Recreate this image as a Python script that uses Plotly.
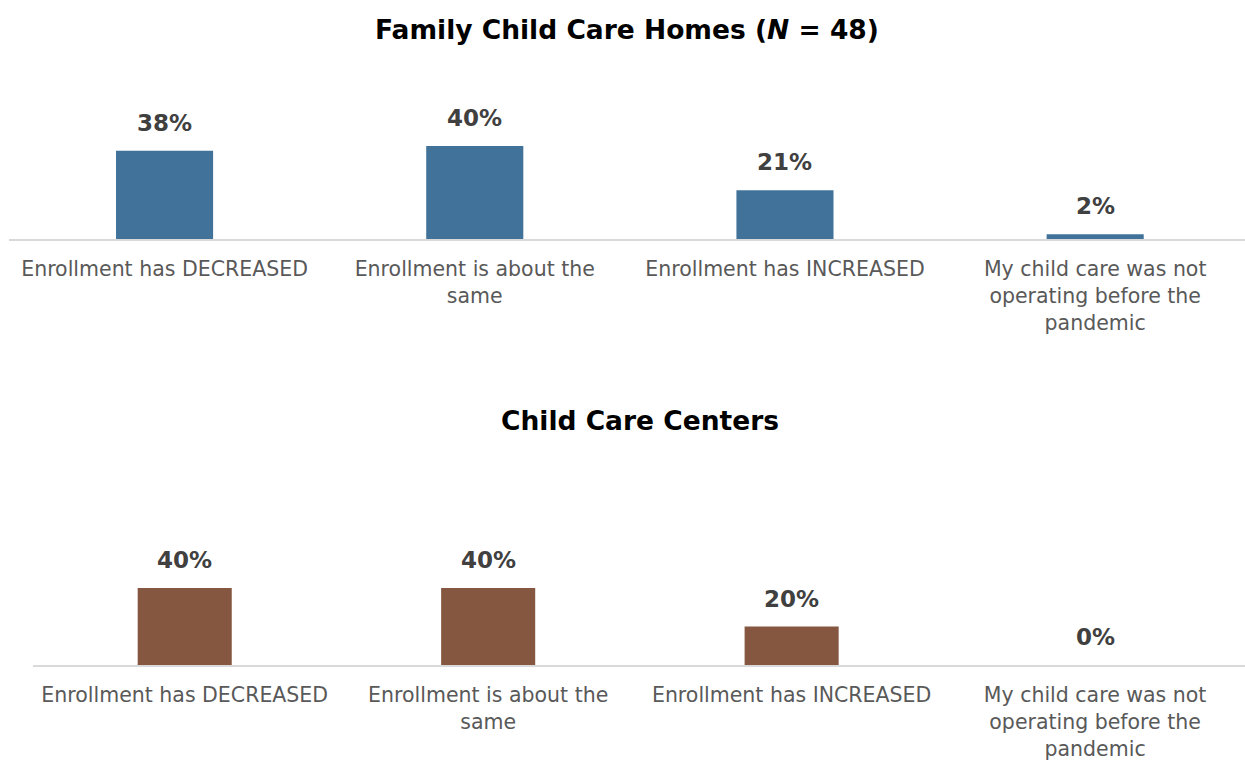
import plotly.graph_objects as go
from plotly.subplots import make_subplots

categories = [
    "Enrollment has DECREASED",
    "Enrollment is about the<br>same",
    "Enrollment has INCREASED",
    "My child care was not<br>operating before the<br>pandemic",
]
homes_pct = [38, 40, 21, 2]
centers_pct = [40, 40, 20, 0]

homes_title = "<b>Family Child Care Homes (<i>N</i> = 48)</b>"
centers_title = "<b>Child Care Centers</b>"

FONT = "DejaVu Sans"
BLUE = "#41739A"
BROWN = "#855640"
LABEL_COLOR = "#404040"

fig = make_subplots(rows=2, cols=1)

fig.add_trace(go.Bar(
    x=categories, y=homes_pct, marker_color=BLUE, width=0.313,
    marker_line_width=0, showlegend=False, hoverinfo="x+y",
), row=1, col=1)

fig.add_trace(go.Bar(
    x=categories, y=centers_pct, marker_color=BROWN, width=0.31,
    marker_line_width=0, showlegend=False, hoverinfo="x+y",
), row=2, col=1)

# value labels sitting above each bar
value_labels = []
for axis_suffix, values in (("", homes_pct), ("2", centers_pct)):
    for cat, v in zip(categories, values):
        value_labels.append(dict(
            x=cat, y=v, xref="x" + axis_suffix, yref="y" + axis_suffix,
            text=f"<b>{v}%</b>", showarrow=False, yanchor="middle", yshift=28,
            font=dict(family=FONT, size=23, color=LABEL_COLOR),
        ))

axis_common = dict(
    showline=True, linecolor="#D9D9D9", linewidth=1.5, ticks="",
    tickfont=dict(family=FONT, size=20.5, color="#595959"),
    ticklabelstandoff=11, showgrid=False, zeroline=False,
)
fig.update_xaxes(**axis_common)
# the top panel's last category runs slightly past the right edge
fig.update_xaxes(domain=[0.0076, 1.0], range=[-0.5, 3.483], row=1, col=1)
fig.update_xaxes(domain=[0.0265, 1.0], range=[-0.5, 3.494], row=2, col=1)

fig.update_yaxes(visible=False, range=[0, 45], showgrid=False)
fig.update_yaxes(domain=[0.6872, 0.8241], row=1, col=1)
fig.update_yaxes(domain=[0.1296, 0.2429], row=2, col=1)

fig.update_layout(
    width=1245, height=764,
    margin=dict(l=0, r=0, t=0, b=0),
    paper_bgcolor="white", plot_bgcolor="white",
    font=dict(family=FONT),
    annotations=[
        dict(text=homes_title, x=0.504, y=1 - 30 / 764, xref="paper", yref="paper",
             yanchor="middle", showarrow=False,
             font=dict(family=FONT, size=26.5, color="#000000")),
        dict(text=centers_title, x=0.514, y=1 - 420 / 764, xref="paper", yref="paper",
             yanchor="middle", showarrow=False,
             font=dict(family=FONT, size=26.5, color="#000000")),
    ] + value_labels,
)

fig.write_html("out.html")
